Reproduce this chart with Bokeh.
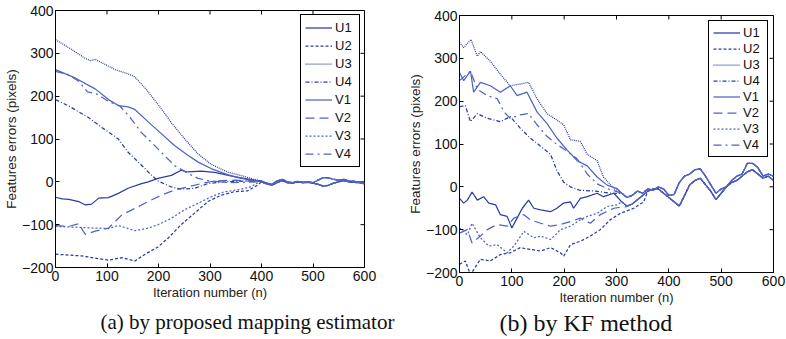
import math
from bokeh.plotting import figure
from bokeh.layouts import row
from bokeh.models import (Legend, LegendItem, FixedTicker, Range1d, Title)
from bokeh.embed import file_html
from bokeh.resources import INLINE

try:
    from bokeh.models import GlobalInlineStyleSheet
    SHEETS = [GlobalInlineStyleSheet(css="html, body { overflow: hidden; }")]
except Exception:
    SHEETS = []

# ---------------- Panel (a): proposed mapping estimator ----------------
A_U1_N = [0, 13, 26, 45, 58, 70, 84, 103, 122, 141, 167, 180, 199, 225, 244, 257, 283, 309, 347, 386]
A_U1_Y = [-36, -40, -41, -46, -54, -52, -38, -37, -27, -15, -4, 0, 8, 15, 27, 23, 25, 22, 12, 4]
A_U2_N = [0, 26, 51, 77, 103, 129, 154, 174, 199, 219, 244, 270, 296, 322, 347, 373, 392]
A_U2_Y = [-169, -171, -173, -178, -183, -177, -185, -169, -152, -131, -100, -73, -46, -31, -23, -21, -8]
A_U3_N = [0, 30, 58, 68, 77, 116, 141, 154, 174, 199, 225, 251, 277, 302, 334, 360, 385]
A_U3_Y = [332, 310, 288, 283, 286, 262, 252, 245, 219, 181, 138, 100, 65, 41, 23, 15, 6]
A_U4_N = [0, 26, 64, 90, 122, 141, 161, 180, 199, 225, 244, 270, 296, 330, 370]
A_U4_Y = [192, 177, 150, 127, 100, 69, 46, 23, 2, -12, -17, -15, -4, 0, 2]
A_V1_N = [0, 39, 77, 103, 122, 141, 154, 180, 206, 231, 257, 277, 302, 334, 360, 392]
A_V1_Y = [262, 242, 217, 192, 178, 175, 169, 140, 112, 85, 62, 46, 31, 17, 8, 2]
A_V2_N = [0, 26, 45, 58, 77, 103, 129, 154, 180, 206, 231, 257, 283, 309, 350, 390]
A_V2_Y = [-102, -104, -98, -123, -115, -108, -77, -62, -46, -31, -19, -12, -4, 2, 4, 0]
A_V3_N = [0, 39, 77, 103, 122, 154, 180, 199, 225, 251, 277, 302, 328, 353, 379, 396]
A_V3_Y = [-104, -106, -108, -109, -102, -114, -108, -100, -85, -65, -50, -35, -23, -19, -12, 0]
A_V4_N = [0, 25, 45, 62, 80, 103, 125, 145, 167, 199, 231, 257, 277, 300, 340, 390]
A_V4_Y = [258, 250, 235, 210, 205, 188, 177, 150, 115, 77, 38, 20, 8, 2, -2, 0]
A_TAIL_N = [400, 410, 420, 430, 440, 450, 460, 470, 480, 490, 500, 510, 520, 530, 540, 550, 560, 570, 580, 590, 600]
A_TAIL_HI = [2, -3, -6, 2, 6, 0, -2, 1, -1, 0, -2, 4, 10, 9, 6, 4, 6, 2, 1, 0, -3]
A_TAIL_LO = [0, -5, -8, -2, 3, -2, -3, 0, -2, -1, -3, -6, -10, -8, -3, 0, 3, 0, -1, -2, -5]

# ---------------- Panel (b): KF method ----------------
B_U1_N = [0, 8, 15, 24, 34, 46, 56, 69, 78, 91, 100, 110, 120, 132, 142, 155, 174, 186, 199, 212, 218, 231, 244, 263, 275, 295]
B_U1_Y = [-27, -38, -31, -12, -31, -23, -38, -42, -65, -69, -96, -73, -50, -31, -50, -54, -58, -50, -38, -35, -50, -27, -23, -15, -23, -15]
B_U2_N = [0, 11, 21, 30, 40, 59, 78, 97, 116, 135, 155, 174, 193, 199, 212, 231, 250, 269, 288, 307, 333, 352]
B_U2_Y = [-181, -173, -205, -188, -169, -173, -158, -154, -142, -146, -150, -142, -154, -162, -135, -127, -115, -100, -77, -62, -50, -35]
B_U3_N = [0, 8, 22, 34, 40, 59, 78, 97, 116, 132, 148, 167, 186, 199, 212, 231, 244, 263, 275, 295]
B_U3_Y = [337, 325, 344, 305, 316, 293, 263, 236, 240, 244, 206, 171, 156, 145, 110, 106, 76, 61, 23, -4]
B_U4_N = [0, 11, 21, 34, 53, 78, 97, 116, 135, 155, 174, 186, 199, 212, 230, 260, 290]
B_U4_Y = [187, 190, 152, 171, 160, 152, 164, 137, 114, 95, 76, 38, 11, 0, -8, -10, -15]
B_V1_N = [0, 8, 21, 27, 40, 59, 78, 97, 110, 129, 148, 167, 186, 205, 225, 244, 263, 282, 301]
B_V1_Y = [267, 248, 270, 221, 244, 236, 221, 236, 213, 221, 175, 148, 114, 87, 61, 49, 23, 4, -4]
B_V2_N = [0, 15, 24, 40, 53, 72, 91, 104, 123, 135, 155, 174, 193, 212, 231, 250, 269, 295, 320, 333]
B_V2_Y = [-108, -100, -131, -115, -100, -88, -92, -73, -65, -77, -85, -92, -88, -81, -73, -85, -65, -50, -46, -38]
B_V3_N = [0, 15, 24, 40, 56, 72, 91, 104, 123, 142, 155, 174, 193, 212, 231, 244, 263, 282, 301]
B_V3_Y = [-96, -112, -85, -119, -138, -135, -154, -138, -104, -119, -115, -123, -100, -92, -77, -69, -62, -46, -42]
B_V4_N = [0, 21, 34, 53, 72, 85, 97, 116, 132, 148, 167, 186, 205, 225, 244, 263, 282]
B_V4_Y = [248, 270, 228, 213, 206, 175, 160, 168, 171, 145, 118, 99, 84, 65, 30, 7, -4]
B_TAIL_N = [310, 320, 330, 340, 350, 360, 370, 380, 390, 400, 410, 420, 430, 440, 450, 460, 470, 480, 490, 500,
            510, 520, 530, 540, 550, 560, 570, 580, 590, 600]
B_TAIL_HI = [-15, -25, -20, -10, -15, -5, -8, 0, -5, -20, -18, 10, 25, 30, 40, 42, 25, 5, -15, -5,
             0, 15, 25, 30, 55, 55, 45, 25, 30, 25]
B_TAIL_LO = [-35, -45, -40, -30, -20, -10, -5, -5, -15, -25, -35, -45, -20, 5, 15, 20, 5, -10, -30, -15,
             0, 10, 15, 25, 35, 40, 30, 20, 25, 15]

NAMES = ["U1", "U2", "U3", "U4", "V1", "V2", "V3", "V4"]
X_TICKS = [0, 100, 200, 300, 400, 500, 600]
Y_TICKS = [-200, -100, 0, 100, 200, 300, 400]
X_MIN, X_MAX = 0, 600
Y_MIN, Y_MAX = -200, 400

U_COLOR = "#2a3ca8"
V_COLOR = "#5063c2"
STYLES = {
    "U1": (U_COLOR, "solid"),
    "U2": (U_COLOR, "3 2"),
    "U3": (U_COLOR, "1 1"),
    "U4": (U_COLOR, "4 2 1 2"),
    "V1": (V_COLOR, "solid"),
    "V2": (V_COLOR, "9 5"),
    "V3": (V_COLOR, "2 2"),
    "V4": (V_COLOR, "8 4 2 4"),
}


def with_tail(n, y, tn, ty):
    last = n[-1]
    nn = list(n) + [a for a in tn if a > last]
    yy = list(y) + [b for a, b in zip(tn, ty) if a > last]
    return nn, yy


def make_panel(series, tail_n, tail_hi, tail_lo, hi_names, width, height, borders,
               legend_cfg, caption, cap_offset, cap_size, cap_standoff, styles):
    bl, br, bt, bb = borders
    p = figure(width=width, height=height, x_range=Range1d(X_MIN, X_MAX), y_range=Range1d(Y_MIN, Y_MAX),
               output_backend="svg", toolbar_location=None, styles=styles,
               min_border_left=bl, min_border_right=br, min_border_top=bt, min_border_bottom=bb)
    p.xgrid.visible = False
    p.ygrid.visible = False
    p.outline_line_color = "black"
    p.outline_line_alpha = 1.0
    p.background_fill_color = "white"
    p.border_fill_color = "white"

    for ax, lab, ticks in ((p.xaxis[0], "Iteration number (n)", X_TICKS),
                           (p.yaxis[0], "Features errors (pixels)", Y_TICKS)):
        ax.ticker = FixedTicker(ticks=ticks)
        ax.axis_label = lab
        ax.axis_label_text_font = "Liberation Sans"
        ax.axis_label_text_font_style = "normal"
        ax.axis_label_text_color = "#222222"
        ax.major_label_text_font = "Liberation Sans"
        ax.major_label_text_font_size = "14px"
        ax.major_label_text_color = "#111111"
        ax.major_tick_in = 4
        ax.major_tick_out = 0
        ax.minor_tick_line_color = None
        ax.axis_line_color = "black"
        ax.major_tick_line_color = "black"
    p.xaxis[0].axis_label_text_font_size = "13px"
    p.yaxis[0].axis_label_text_font_size = "13.5px"
    p.xaxis[0].major_label_standoff = 3
    p.xaxis[0].axis_label_standoff = 1
    p.yaxis[0].major_label_standoff = 2
    p.yaxis[0].axis_label_standoff = 0

    # inward ticks on the top and right edges of the box
    p.ray(x=X_TICKS, y=[Y_MAX] * len(X_TICKS), length=4, length_units="screen",
          angle=-math.pi / 2, line_color="black", line_width=1)
    p.ray(x=[X_MAX] * len(Y_TICKS), y=Y_TICKS, length=4, length_units="screen",
          angle=math.pi, line_color="black", line_width=1)

    items = []
    for name in NAMES:
        n, y = series[name]
        tail = tail_hi if name in hi_names else tail_lo
        nn, yy = with_tail(n, y, tail_n, tail)
        color, dash = STYLES[name]
        r = p.line(nn, yy, line_color=color, line_width=1.25, line_dash=dash)
        items.append(LegendItem(label=name, renderers=[r]))

    gh, sp, pad, mg = legend_cfg
    legend = Legend(items=items, location="top_right", margin=mg,
                    border_line_color="black", border_line_width=1, border_line_alpha=1.0,
                    background_fill_color="white", background_fill_alpha=1.0,
                    label_text_font="Liberation Sans", label_text_font_size="13px",
                    label_text_color="#111111",
                    glyph_width=27, glyph_height=gh, label_height=gh, spacing=sp,
                    padding=pad, label_standoff=3)
    p.add_layout(legend)

    p.add_layout(Title(text=caption, align="left", offset=cap_offset, standoff=cap_standoff,
                       text_font="Liberation Serif", text_font_size=cap_size,
                       text_font_style="normal", text_color="#111111"), "below")
    return p


series_a = {
    "U1": (A_U1_N, A_U1_Y), "U2": (A_U2_N, A_U2_Y), "U3": (A_U3_N, A_U3_Y), "U4": (A_U4_N, A_U4_Y),
    "V1": (A_V1_N, A_V1_Y), "V2": (A_V2_N, A_V2_Y), "V3": (A_V3_N, A_V3_Y), "V4": (A_V4_N, A_V4_Y),
}
series_b = {
    "U1": (B_U1_N, B_U1_Y), "U2": (B_U2_N, B_U2_Y), "U3": (B_U3_N, B_U3_Y), "U4": (B_U4_N, B_U4_Y),
    "V1": (B_V1_N, B_V1_Y), "V2": (B_V2_N, B_V2_Y), "V3": (B_V3_N, B_V3_Y), "V4": (B_V4_N, B_V4_Y),
}

p1 = make_panel(series_a, A_TAIL_N, A_TAIL_HI, A_TAIL_LO, {"U3", "U4", "V1", "V4"},
                400, 339, (53, 36, 10, 69), (17, 1, 4, 4),
                "(a) by proposed mapping estimator", 45, "21px", 11,
                {"flex-shrink": "0"})
p2 = make_panel(series_b, B_TAIL_N, B_TAIL_HI, B_TAIL_LO, {"U3", "U4", "V1", "V4"},
                386, 339, (59, 13, 10, 69), (15, 1, 4, 5),
                "(b) by KF method", 40, "24px", 0,
                {"flex-shrink": "0", "margin-top": "5px", "margin-bottom": "-5px"})

layout = row(p1, p2, spacing=0, stylesheets=SHEETS)

open("out.html", "w").write(file_html(layout, INLINE))
